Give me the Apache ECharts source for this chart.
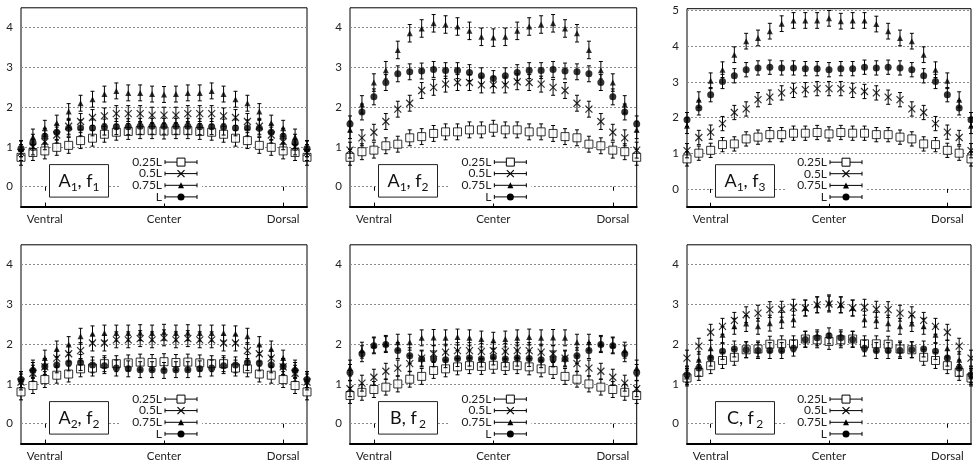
<!DOCTYPE html>
<html><head><meta charset="utf-8">
<script src="https://cdn.jsdelivr.net/npm/echarts@6/dist/echarts.min.js"></script>
<style>html,body{margin:0;padding:0;background:#fff}#c{width:973px;height:463px}</style>
</head><body><div id="c"></div>
<script>
// ---- categories / ticks ----
const positions = ['0','1','2','3','4','5','6','7','8','9','10','11','12','13','14','15','16','17','18','19','20','21','22','23','24'];
const tickIndex = [2, 12, 22];
const tickLabels = ['Ventral', 'Center', 'Dorsal'];
const levels = ['0.25L', '0.5L', '0.75L', 'L'];
const labelMain = ['A', 'A', 'A', 'A', 'B', 'C'];
const labelMainSub = ['1', '1', '1', '2', '', ''];
const labelFSub = ['1', '2', '3', '2', '2', '2'];

// ---- data: panel A1,f1 ----
const a1f1_q25 = [0.74,0.86,0.90,0.99,1.04,1.16,1.22,1.32,1.37,1.39,1.41,1.41,1.40,1.41,1.41,1.39,1.37,1.32,1.22,1.16,1.04,0.99,0.90,0.86,0.74];
const a1f1_q50 = [0.86,1.00,1.13,1.30,1.52,1.64,1.74,1.78,1.84,1.84,1.84,1.80,1.80,1.80,1.84,1.84,1.84,1.78,1.74,1.64,1.52,1.30,1.13,1.00,0.86];
const a1f1_q75 = [0.95,1.25,1.47,1.60,1.89,2.10,2.20,2.33,2.41,2.36,2.36,2.33,2.32,2.33,2.36,2.36,2.41,2.33,2.20,2.10,1.89,1.60,1.47,1.25,0.95];
const a1f1_L   = [0.96,1.12,1.27,1.37,1.47,1.48,1.48,1.50,1.51,1.51,1.52,1.52,1.52,1.52,1.52,1.51,1.51,1.50,1.48,1.48,1.47,1.37,1.27,1.12,0.96];
const a1f1_err = [0.2, 0.2, 0.2, 0.2];
// ---- panel A1,f2 ----
const a1f2_q25 = [0.74,0.88,0.92,1.03,1.07,1.23,1.26,1.34,1.38,1.38,1.43,1.43,1.47,1.43,1.43,1.38,1.38,1.34,1.26,1.23,1.07,1.03,0.92,0.88,0.74];
const a1f2_q50 = [0.92,1.23,1.37,1.64,1.95,2.10,2.42,2.50,2.58,2.62,2.62,2.56,2.56,2.56,2.64,2.62,2.58,2.50,2.42,2.10,1.95,1.64,1.37,1.23,0.92];
const a1f2_q75 = [1.43,2.07,2.62,2.93,3.44,3.86,3.98,4.11,4.08,4.03,3.92,3.77,3.75,3.77,3.92,4.03,4.08,4.11,3.98,3.86,3.44,2.93,2.62,2.07,1.43];
const a1f2_L   = [1.58,1.88,2.26,2.62,2.84,2.89,2.91,2.95,2.92,2.92,2.87,2.79,2.72,2.79,2.87,2.92,2.92,2.95,2.91,2.89,2.84,2.62,2.26,1.88,1.58];
const a1f2_err = [0.2, 0.2, 0.22, 0.2];
// ---- panel A1,f3 ----
const a1f3_q25 = [0.84,1.00,1.08,1.24,1.26,1.40,1.45,1.52,1.52,1.56,1.56,1.58,1.54,1.58,1.56,1.56,1.52,1.52,1.45,1.40,1.26,1.24,1.08,1.00,0.84];
const a1f3_q50 = [1.07,1.44,1.59,1.83,2.14,2.24,2.50,2.57,2.69,2.76,2.78,2.81,2.81,2.81,2.76,2.73,2.69,2.57,2.50,2.24,2.14,1.83,1.59,1.44,1.07];
const a1f3_q75 = [1.77,2.50,3.03,3.34,3.76,4.14,4.23,4.42,4.63,4.72,4.72,4.72,4.78,4.70,4.72,4.72,4.62,4.42,4.23,4.14,3.76,3.34,3.03,2.50,1.77];
const a1f3_L   = [1.94,2.27,2.64,3.01,3.17,3.34,3.39,3.41,3.39,3.39,3.37,3.37,3.34,3.37,3.37,3.41,3.39,3.41,3.39,3.34,3.17,3.01,2.64,2.27,1.94];
const a1f3_err = [0.2, 0.2, 0.22, 0.2];
// ---- panel A2,f2 ----
const a2f2_q25 = [0.80,0.96,1.11,1.22,1.25,1.38,1.40,1.51,1.51,1.53,1.55,1.54,1.56,1.54,1.55,1.53,1.51,1.51,1.40,1.38,1.25,1.22,1.11,0.96,0.80];
const a2f2_q50 = [1.05,1.27,1.43,1.65,1.76,1.84,2.03,2.03,2.11,2.11,2.14,2.11,2.16,2.11,2.14,2.11,2.11,2.03,2.03,1.84,1.76,1.65,1.43,1.27,1.05];
const a2f2_q75 = [1.11,1.40,1.65,1.88,1.99,2.20,2.26,2.28,2.28,2.28,2.29,2.28,2.30,2.28,2.29,2.28,2.28,2.28,2.26,2.20,1.99,1.88,1.65,1.40,1.11];
const a2f2_L   = [1.11,1.34,1.44,1.48,1.53,1.54,1.48,1.46,1.40,1.38,1.36,1.36,1.34,1.36,1.36,1.38,1.40,1.46,1.48,1.54,1.53,1.48,1.44,1.34,1.11];
const a2f2_err = [0.2, 0.2, 0.2, 0.2];
// ---- panel B,f2 ----
const bf2_q25 = [0.71,0.79,0.86,0.92,1.00,1.12,1.19,1.34,1.38,1.43,1.46,1.44,1.47,1.44,1.46,1.43,1.38,1.34,1.19,1.12,1.00,0.92,0.86,0.79,0.71];
const bf2_q50 = [0.88,1.02,1.17,1.32,1.40,1.51,1.65,1.76,1.80,1.84,1.84,1.82,1.84,1.82,1.84,1.84,1.80,1.76,1.65,1.51,1.40,1.32,1.17,1.02,0.88];
const bf2_q75 = [1.40,1.85,1.98,2.02,2.05,2.05,2.16,2.17,2.16,2.18,2.16,2.13,2.10,2.13,2.16,2.18,2.16,2.17,2.16,2.05,2.05,2.02,1.98,1.85,1.40];
const bf2_L   = [1.29,1.76,1.96,1.99,1.84,1.71,1.63,1.63,1.61,1.64,1.65,1.63,1.68,1.63,1.65,1.64,1.61,1.63,1.63,1.71,1.84,1.99,1.96,1.76,1.29];
const bf2_err = [0.2, 0.2, 0.2, 0.2];
// ---- panel C,f2 ----
const cf2_q25 = [1.15,1.29,1.46,1.59,1.67,1.86,1.88,2.00,2.01,2.01,2.13,2.11,2.07,2.11,2.13,2.01,2.01,2.00,1.88,1.86,1.67,1.59,1.46,1.29,1.15];
const cf2_q50 = [1.65,1.95,2.30,2.45,2.60,2.74,2.78,2.87,2.88,2.93,2.91,2.99,3.01,2.99,2.91,2.93,2.88,2.87,2.78,2.74,2.60,2.45,2.30,1.95,1.65];
const cf2_q75 = [1.19,1.61,1.90,2.24,2.45,2.52,2.45,2.53,2.60,2.63,2.91,2.99,3.04,2.99,2.91,2.63,2.60,2.53,2.45,2.52,2.45,2.24,1.90,1.61,1.19];
const cf2_L   = [1.23,1.40,1.65,1.82,1.88,1.86,1.84,1.84,1.84,1.90,2.12,2.16,2.21,2.16,2.12,1.90,1.84,1.84,1.84,1.86,1.88,1.82,1.65,1.40,1.23];
const cf2_err = [0.2, 0.2, 0.2, 0.2];

const panels = [
  {vals: [a1f1_q25, a1f1_q50, a1f1_q75, a1f1_L], err: a1f1_err},
  {vals: [a1f2_q25, a1f2_q50, a1f2_q75, a1f2_L], err: a1f2_err},
  {vals: [a1f3_q25, a1f3_q50, a1f3_q75, a1f3_L], err: a1f3_err},
  {vals: [a2f2_q25, a2f2_q50, a2f2_q75, a2f2_L], err: a2f2_err},
  {vals: [bf2_q25, bf2_q50, bf2_q75, bf2_L], err: bf2_err},
  {vals: [cf2_q25, cf2_q50, cf2_q75, cf2_L], err: cf2_err}
];

// ---- layout ----
const layout = [
  {left: 21,  top: 7.8,   width: 286,   height: 198.8, ymax: 4.5},
  {left: 350, top: 7.8,   width: 286.7, height: 198.8, ymax: 4.5},
  {left: 687, top: 8.7,   width: 284,   height: 198,   ymax: 5.05},
  {left: 21,  top: 244.8, width: 286,   height: 198.8, ymax: 4.5},
  {left: 350, top: 244.8, width: 286.7, height: 198.8, ymax: 4.5},
  {left: 687, top: 244.8, width: 284,   height: 198.8, ymax: 4.5}
];
const FONT = 'Lato, "Open Sans", sans-serif';
const markerDefs = [
  {symbol: 'rect', size: 8, itemStyle: {color: '#fff', borderColor: '#000', borderWidth: 1}},
  {symbol: 'path://M0,0L10,10M10,0L0,10', size: 7, itemStyle: {color: 'rgba(0,0,0,0)', borderColor: '#000', borderWidth: 1.2}},
  {symbol: 'triangle', size: 6, itemStyle: {color: '#000'}},
  {symbol: 'circle', size: 7, itemStyle: {color: '#000'}}
];

function renderErr(params, api) {
  const x = api.value(0), v = api.value(1), e = api.value(2);
  const lo = api.coord([x, v - e]), hi = api.coord([x, v + e]);
  const w = 2;
  const st = {stroke: '#000', lineWidth: 1};
  return {type: 'group', children: [
    {type: 'line', shape: {x1: lo[0], y1: lo[1], x2: hi[0], y2: hi[1]}, style: st},
    {type: 'line', shape: {x1: lo[0] - w, y1: lo[1], x2: lo[0] + w, y2: lo[1]}, style: st},
    {type: 'line', shape: {x1: hi[0] - w, y1: hi[1], x2: hi[0] + w, y2: hi[1]}, style: st}
  ]};
}

const grid = [], xAxis = [], yAxis = [], series = [], graphics = [];
layout.forEach((L, p) => {
  grid.push({left: L.left, top: L.top, width: L.width, height: L.height, show: true,
    borderColor: '#000', borderWidth: 1, backgroundColor: 'transparent'});
  xAxis.push({type: 'category', gridIndex: p, data: positions, boundaryGap: false,
    axisLine: {show: true, onZero: false, lineStyle: {color: '#000', width: 2}},
    axisTick: {show: true, inside: true, length: 4, lineStyle: {color: '#000'}, interval: (i) => tickIndex.includes(i)},
    axisLabel: {show: true, interval: (i) => tickIndex.includes(i), margin: 7,
      formatter: (v, i) => { const k = tickIndex.indexOf(i); return k >= 0 ? tickLabels[k] : ''; },
      fontFamily: FONT, fontSize: 11.5, color: '#222'},
    splitLine: {show: false}});
  yAxis.push({type: 'value', gridIndex: p, min: -0.5, max: L.ymax, interval: 0.5,
    axisLine: {show: false}, axisTick: {show: false},
    axisLabel: {margin: 8, fontFamily: FONT, fontSize: 11.5, color: '#222',
      formatter: (v) => (Math.abs(v - Math.round(v)) < 1e-6 ? String(Math.round(v)) : '')},
    splitLine: {show: true, lineStyle: {color: ['rgba(0,0,0,0)', '#8a8a8a'], type: [2, 2], width: 1}}});
});
// mirrored top ticks
layout.forEach((L, p) => {
  xAxis.push({type: 'category', gridIndex: p, data: positions, boundaryGap: false, position: 'top',
    axisLine: {show: false},
    axisTick: {show: true, inside: true, length: 4, lineStyle: {color: '#000'}, interval: (i) => tickIndex.includes(i)},
    axisLabel: {show: false}, splitLine: {show: false}});
});

panels.forEach((P, p) => {
  P.vals.forEach((vals, l) => {
    series.push({type: 'custom', xAxisIndex: p, yAxisIndex: p, z: 3 + l * 2, silent: true,
      renderItem: renderErr, encode: {x: 0, y: 1},
      data: vals.map((v, i) => [i, v, P.err[l]])});
    const m = markerDefs[l];
    series.push({type: 'scatter', name: levels[l], xAxisIndex: p, yAxisIndex: p, z: 4 + l * 2, silent: true,
      symbol: m.symbol, symbolSize: m.size, itemStyle: m.itemStyle, data: vals});
  });
});

// ---- label boxes and keys (layout only) ----
layout.forEach((L, p) => {
  const bottom = L.top + L.height;
  const cx = L.left + L.width / 2;
  // label box
  graphics.push({type: 'rect', z: 1, shape: {x: L.left + 28.5, y: bottom - 42, width: 59, height: 32.5},
    style: {fill: '#fff', stroke: '#222', lineWidth: 1}});
  let txt = '{m|' + labelMain[p] + '}';
  if (labelMainSub[p]) txt += '{s|' + labelMainSub[p] + '}';
  txt += '{m|, f' + (labelMainSub[p] ? '' : '\u2009') + '}{s|' + labelFSub[p] + '}';
  graphics.push({type: 'text', z: 2, x: L.left + 58, y: bottom - 25.8,
    style: {text: txt, align: 'center', verticalAlign: 'middle', textAlign: 'center', textVerticalAlign: 'middle',
      rich: {m: {fontFamily: FONT, fontSize: 18, lineHeight: 24, fill: '#111'},
             s: {fontFamily: FONT, fontSize: 12, lineHeight: 14, verticalAlign: 'bottom', fill: '#111'}}}});
  // key background
  graphics.push({type: 'rect', z: 1, shape: {x: cx - 44, y: bottom - 51, width: 82, height: 48},
    style: {fill: '#fff'}});
  const rows = [44.5, 33, 21.3, 9.7];
  levels.forEach((name, l) => {
    const y = bottom - rows[l];
    graphics.push({type: 'text', z: 2, x: cx - 2, y: y,
      style: {text: name, align: 'right', verticalAlign: 'middle', textAlign: 'right', textVerticalAlign: 'middle',
        fontFamily: FONT, fontSize: 12, fill: '#222', font: '12px ' + FONT}});
    const st = {stroke: '#000', lineWidth: 1};
    graphics.push({type: 'line', z: 2, shape: {x1: cx + 1, y1: y, x2: cx + 33, y2: y}, style: st});
    graphics.push({type: 'line', z: 2, shape: {x1: cx + 1, y1: y - 2, x2: cx + 1, y2: y + 2}, style: st});
    graphics.push({type: 'line', z: 2, shape: {x1: cx + 33, y1: y - 2, x2: cx + 33, y2: y + 2}, style: st});
    const mx = cx + 17;
    if (l === 0) graphics.push({type: 'rect', z: 3, shape: {x: mx - 4, y: y - 4, width: 8, height: 8}, style: {fill: '#fff', stroke: '#000', lineWidth: 1}});
    if (l === 1) {
      graphics.push({type: 'line', z: 3, shape: {x1: mx - 3.5, y1: y - 3.5, x2: mx + 3.5, y2: y + 3.5}, style: {stroke: '#000', lineWidth: 1.2}});
      graphics.push({type: 'line', z: 3, shape: {x1: mx + 3.5, y1: y - 3.5, x2: mx - 3.5, y2: y + 3.5}, style: {stroke: '#000', lineWidth: 1.2}});
    }
    if (l === 2) graphics.push({type: 'polygon', z: 3, shape: {points: [[mx, y - 3], [mx + 3, y + 3], [mx - 3, y + 3]]}, style: {fill: '#000'}});
    if (l === 3) graphics.push({type: 'circle', z: 3, shape: {cx: mx, cy: y, r: 3.5}, style: {fill: '#000'}});
  });
});

const chart = echarts.init(document.getElementById('c'), null, {renderer: 'canvas'});
chart.setOption({animation: false, backgroundColor: '#fff', grid, xAxis, yAxis, series, graphic: {elements: graphics}});
</script></body></html>
